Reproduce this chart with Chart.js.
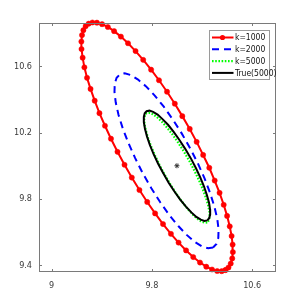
<!DOCTYPE html>
<html>
<head>
<meta charset="utf-8">
<script src="https://cdn.jsdelivr.net/npm/chart.js@4.4.0/dist/chart.umd.min.js"></script>
<style>
  html, body { margin: 0; padding: 0; background: #fff; }
  #wrap { width: 305px; height: 305px; }
</style>
</head>
<body>
<div id="wrap"><canvas id="chart" width="305" height="305"></canvas></div>
<script>
// Axis ticks
const xTicks = [9, 9.8, 10.6];
const yTicks = [9.4, 9.8, 10.2, 10.6];

// k=1000 (red, with markers)
const redX = [10.387, 10.357, 10.321, 10.280, 10.234, 10.184, 10.130, 10.073, 10.013, 9.952, 9.889, 9.826, 9.763, 9.701, 9.640, 9.582,
  9.526, 9.474, 9.426, 9.382, 9.344, 9.311, 9.283, 9.262, 9.248, 9.239, 9.238, 9.243, 9.254, 9.272, 9.296,
  9.326, 9.362, 9.403, 9.449, 9.499, 9.553, 9.610, 9.670, 9.731, 9.794, 9.857, 9.921, 9.983, 10.043, 10.102,
  10.157, 10.209, 10.258, 10.301, 10.340, 10.373, 10.400, 10.421, 10.436, 10.444, 10.446, 10.441, 10.429, 10.411];
const redY = [9.372, 9.365, 9.366, 9.375, 9.392, 9.417, 9.450, 9.490, 9.537, 9.590, 9.649, 9.713, 9.782, 9.854, 9.929, 10.006,
  10.084, 10.163, 10.241, 10.317, 10.392, 10.463, 10.530, 10.593, 10.651, 10.703, 10.748, 10.787, 10.817, 10.841, 10.856,
  10.863, 10.862, 10.853, 10.836, 10.811, 10.778, 10.738, 10.691, 10.638, 10.579, 10.515, 10.446, 10.374, 10.299, 10.222,
  10.144, 10.065, 9.988, 9.911, 9.837, 9.765, 9.698, 9.635, 9.577, 9.525, 9.480, 9.442, 9.411, 9.387];

// k=2000 (blue dashed)
const blueX = [10.288, 10.249, 10.201, 10.144, 10.080, 10.011, 9.939, 9.867, 9.796, 9.728,
  9.667, 9.613, 9.568, 9.534, 9.512, 9.502, 9.504, 9.519, 9.546,
  9.584, 9.633, 9.690, 9.754, 9.823, 9.895, 9.967, 10.038, 10.105,
  10.167, 10.221, 10.265, 10.299, 10.322, 10.332, 10.330, 10.315];
const blueY = [9.508, 9.503, 9.514, 9.540, 9.582, 9.637, 9.703, 9.780, 9.865, 9.954,
  10.046, 10.137, 10.225, 10.307, 10.381, 10.444, 10.494, 10.530, 10.551,
  10.557, 10.546, 10.519, 10.478, 10.423, 10.356, 10.279, 10.195, 10.106,
  10.014, 9.923, 9.835, 9.753, 9.679, 9.616, 9.566, 9.529];

// k=5000 (green dotted)
const k5X = [10.242, 10.221, 10.193, 10.160, 10.122, 10.080, 10.036, 9.990, 9.945, 9.901,
  9.861, 9.825, 9.794, 9.769, 9.752, 9.741, 9.739, 9.745, 9.758,
  9.779, 9.807, 9.840, 9.878, 9.920, 9.965, 10.010, 10.055, 10.099,
  10.139, 10.175, 10.206, 10.231, 10.249, 10.259, 10.261, 10.255];
const k5Y = [9.659, 9.657, 9.665, 9.682, 9.709, 9.745, 9.788, 9.837, 9.891, 9.947,
  10.005, 10.062, 10.117, 10.168, 10.214, 10.253, 10.283, 10.305, 10.317,
  10.319, 10.311, 10.294, 10.267, 10.231, 10.188, 10.139, 10.086, 10.029,
  9.971, 9.914, 9.859, 9.808, 9.762, 9.723, 9.693, 9.671];

// True(5000) (black)
const trueX = [10.242, 10.219, 10.190, 10.155, 10.115, 10.072, 10.026, 9.980, 9.934, 9.891,
  9.850, 9.814, 9.784, 9.761, 9.745, 9.736, 9.736, 9.743, 9.758,
  9.781, 9.810, 9.846, 9.885, 9.929, 9.974, 10.020, 10.066, 10.110,
  10.150, 10.186, 10.216, 10.239, 10.256, 10.264, 10.265, 10.257];
const trueY = [9.671, 9.668, 9.675, 9.692, 9.719, 9.754, 9.796, 9.845, 9.898, 9.955,
  10.012, 10.070, 10.125, 10.177, 10.223, 10.262, 10.294, 10.316, 10.329,
  10.332, 10.325, 10.308, 10.281, 10.247, 10.204, 10.155, 10.102, 10.046,
  9.988, 9.930, 9.875, 9.823, 9.777, 9.738, 9.706, 9.684];

// true centre
const centerX = [10];
const centerY = [10];

const narrow = "'Liberation Sans Narrow', 'DejaVu Sans Condensed', 'Arial Narrow', sans-serif";

// join x/y lists into closed loops
function loop(xs, ys) {
  const pts = xs.map((x, i) => ({ x: x, y: ys[i] }));
  pts.push({ x: xs[0], y: ys[0] });
  return pts;
}

// MATLAB-like box, inward ticks and the boxed legend
const framePlugin = {
  id: 'frame',
  afterDraw(chart) {
    const ctx = chart.ctx;
    const a = chart.chartArea;
    const xs = chart.scales.x;
    const ys = chart.scales.y;
    ctx.save();
    ctx.strokeStyle = '#7a7a7a';
    ctx.lineWidth = 1;
    ctx.strokeRect(a.left + 0.5, a.top + 0.5, a.right - a.left - 1, a.bottom - a.top - 1);
    ctx.beginPath();
    xTicks.forEach(v => {
      const px = Math.round(xs.getPixelForValue(v)) + 0.5;
      ctx.moveTo(px, a.bottom); ctx.lineTo(px, a.bottom - 3);
      ctx.moveTo(px, a.top); ctx.lineTo(px, a.top + 3);
    });
    yTicks.forEach(v => {
      const py = Math.round(ys.getPixelForValue(v)) + 0.5;
      ctx.moveTo(a.left, py); ctx.lineTo(a.left + 3, py);
      ctx.moveTo(a.right, py); ctx.lineTo(a.right - 3, py);
    });
    ctx.stroke();

    // legend box
    const lx = 209.5, ly = 30.5, lw = 60, lh = 49;
    ctx.fillStyle = '#fff';
    ctx.fillRect(lx, ly, lw, lh);
    ctx.strokeStyle = '#9a9a9a';
    ctx.strokeRect(lx, ly, lw, lh);
    ctx.font = '8.5px ' + narrow;
    ctx.textBaseline = 'middle';
    let row = 0;
    chart.data.datasets.forEach(ds => {
      if (!ds.label) return;
      const yy = ly + 7 + row * 11.8;
      ctx.save();
      ctx.strokeStyle = ds.borderColor;
      ctx.lineWidth = ds.borderWidth;
      ctx.setLineDash(ds.borderDash || []);
      ctx.beginPath();
      ctx.moveTo(lx + 2.5, yy);
      ctx.lineTo(lx + 24, yy);
      ctx.stroke();
      if (ds.pointRadius > 0) {
        ctx.fillStyle = ds.pointBackgroundColor;
        ctx.beginPath();
        ctx.arc(lx + 13, yy, ds.pointRadius, 0, Math.PI * 2);
        ctx.fill();
      }
      ctx.restore();
      ctx.fillStyle = '#111';
      ctx.fillText(ds.label, lx + 25.5, yy + 0.5);
      row++;
    });
    ctx.restore();
  }
};

new Chart(document.getElementById('chart'), {
  type: 'scatter',
  data: {
    datasets: [
      {
        label: 'k=1000', data: loop(redX, redY), showLine: true,
        borderColor: '#ff0000', borderWidth: 2, pointRadius: 2.6,
        pointBackgroundColor: '#ff0000', pointBorderColor: '#ff0000', pointBorderWidth: 0.5,
        clip: false, order: 4
      },
      {
        label: 'k=2000', data: loop(blueX, blueY), showLine: true,
        borderColor: '#0000ff', borderWidth: 2, borderDash: [7, 5], pointRadius: 0, order: 3
      },
      {
        label: 'k=5000', data: loop(k5X, k5Y), showLine: true,
        borderColor: '#00ff00', borderWidth: 2.2, borderDash: [1.6, 1.6], pointRadius: 0, order: 2
      },
      {
        label: 'True(5000)', data: loop(trueX, trueY), showLine: true,
        borderColor: '#000000', borderWidth: 2, pointRadius: 0, order: 1
      },
      {
        data: centerX.map((x, i) => ({ x: x, y: centerY[i] })),
        pointStyle: 'star', pointRadius: 2.5, borderColor: '#333', borderWidth: 1, order: 0
      }
    ]
  },
  options: {
    responsive: false,
    animation: false,
    layout: { padding: { top: 23, right: 29, left: 0, bottom: 0 } },
    plugins: { legend: { display: false }, tooltip: { enabled: false } },
    scales: {
      x: {
        type: 'linear', min: 8.9, max: 10.79,
        afterBuildTicks: s => { s.ticks = xTicks.map(v => ({ value: v })); },
        afterFit: s => { s.height = 33; },
        grid: { display: false, drawTicks: false },
        border: { display: false },
        ticks: { padding: 8, color: '#3a3a3a', font: { family: narrow, size: 9 }, callback: v => String(v) }
      },
      y: {
        type: 'linear', min: 9.36, max: 10.86,
        afterBuildTicks: s => { s.ticks = yTicks.map(v => ({ value: v })); },
        afterFit: s => { s.width = 39; },
        grid: { display: false, drawTicks: false },
        border: { display: false },
        ticks: { padding: 7, color: '#3a3a3a', font: { family: narrow, size: 9 }, callback: v => String(v) }
      }
    }
  },
  plugins: [framePlugin]
});
</script>
</body>
</html>
